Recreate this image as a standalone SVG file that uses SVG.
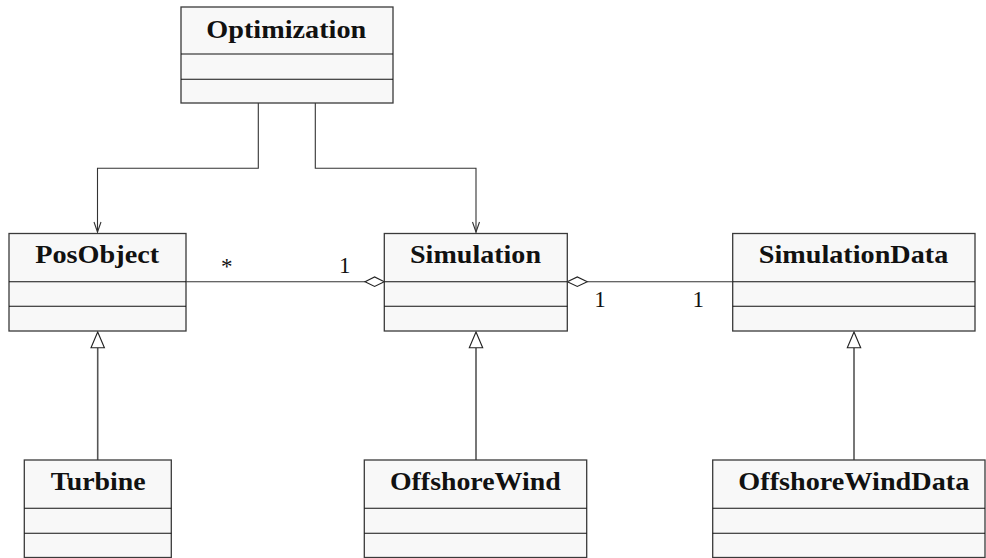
<svg xmlns="http://www.w3.org/2000/svg" width="986" height="558" viewBox="0 0 986 558">
<style>
.box{fill:#f8f8f8;stroke:#3a3a3a;stroke-width:1.3}
.div{stroke:#111;stroke-width:1.1;fill:none}
.title{font-family:"Liberation Serif","DejaVu Serif",serif;font-weight:bold;font-size:25px;fill:#111;text-anchor:middle}
.mult{font-family:"Liberation Serif","DejaVu Serif",serif;font-size:23px;fill:#111;text-anchor:middle}
.ln{stroke:#333;stroke-width:1.1;fill:none}
.inh{stroke:#555;stroke-width:1.6;fill:none}
</style>
<g id="connectors">
<path class="ln" d="M258.3,103 V168.3 H97.5 V232.5"/>
<path d="M94,222 L97.5,232 L101,222" class="ln"/>
<path class="ln" d="M315.3,103 V168.3 H476 V232.5"/>
<path d="M472.5,222 L476,232 L479.5,222" class="ln"/>
<path class="ln" d="M186,281.7 H365"/>
<path d="M365,281.7 L374.6,276.9 L384.3,281.7 L374.6,286.5 Z" fill="#fff" stroke="#222" stroke-width="1.1"/>
<path class="ln" d="M587.3,281.7 H732.7"/>
<path d="M567.3,281.7 L577.3,276.9 L587.3,281.7 L577.3,286.5 Z" fill="#fff" stroke="#222" stroke-width="1.1"/>
<path class="inh" d="M97.7,460 V347.7"/>
<path d="M91,347.7 L97.7,332 L104.4,347.7 Z" fill="#fff" stroke="#222" stroke-width="1.1"/>
<path class="inh" d="M476,460 V347.7"/>
<path d="M469.3,347.7 L476,332 L482.7,347.7 Z" fill="#fff" stroke="#222" stroke-width="1.1"/>
<path class="inh" d="M854,460 V347.7"/>
<path d="M847.3,347.7 L854,332 L860.7,347.7 Z" fill="#fff" stroke="#222" stroke-width="1.1"/>
<text class="mult" x="226.7" y="273.5">*</text>
<text class="mult" x="344.7" y="273">1</text>
<text class="mult" x="600" y="307">1</text>
<text class="mult" x="698.3" y="307">1</text>
</g>
<g id="Optimization">
<rect class="box" x="181" y="7" width="212" height="96"/>
<path class="div" d="M181,54 H393 M181,79.3 H393"/>
<text class="title" x="286.3" y="37.5" textLength="160" lengthAdjust="spacingAndGlyphs">Optimization</text>
</g>
<g id="PosObject">
<rect class="box" x="9" y="233.5" width="177" height="97.5"/>
<path class="div" d="M9,281.7 H186 M9,306.3 H186"/>
<text class="title" x="97.2" y="262.5" textLength="124" lengthAdjust="spacingAndGlyphs">PosObject</text>
</g>
<g id="Simulation">
<rect class="box" x="384.3" y="233.5" width="183" height="97.5"/>
<path class="div" d="M384.3,281.7 H567.3 M384.3,306.3 H567.3"/>
<text class="title" x="475.5" y="263" textLength="131" lengthAdjust="spacingAndGlyphs">Simulation</text>
</g>
<g id="SimulationData">
<rect class="box" x="732.7" y="233.5" width="242.3" height="97.5"/>
<path class="div" d="M732.7,281.7 H975 M732.7,306.3 H975"/>
<text class="title" x="853.5" y="263" textLength="189.5" lengthAdjust="spacingAndGlyphs">SimulationData</text>
</g>
<g id="Turbine">
<rect class="box" x="24.3" y="460" width="147" height="97.5"/>
<path class="div" d="M24.3,508.3 H171.3 M24.3,533.3 H171.3"/>
<text class="title" x="98.2" y="490" textLength="95" lengthAdjust="spacingAndGlyphs">Turbine</text>
</g>
<g id="OffshoreWind">
<rect class="box" x="364.3" y="460" width="222.4" height="97.5"/>
<path class="div" d="M364.3,508.3 H586.7 M364.3,533.3 H586.7"/>
<text class="title" x="475.3" y="490" textLength="170.7" lengthAdjust="spacingAndGlyphs">OffshoreWind</text>
</g>
<g id="OffshoreWindData">
<rect class="box" x="712.7" y="460" width="272.3" height="97.5"/>
<path class="div" d="M712.7,508.3 H985 M712.7,533.3 H985"/>
<text class="title" x="853.8" y="490" textLength="231" lengthAdjust="spacingAndGlyphs">OffshoreWindData</text>
</g>
</svg>
